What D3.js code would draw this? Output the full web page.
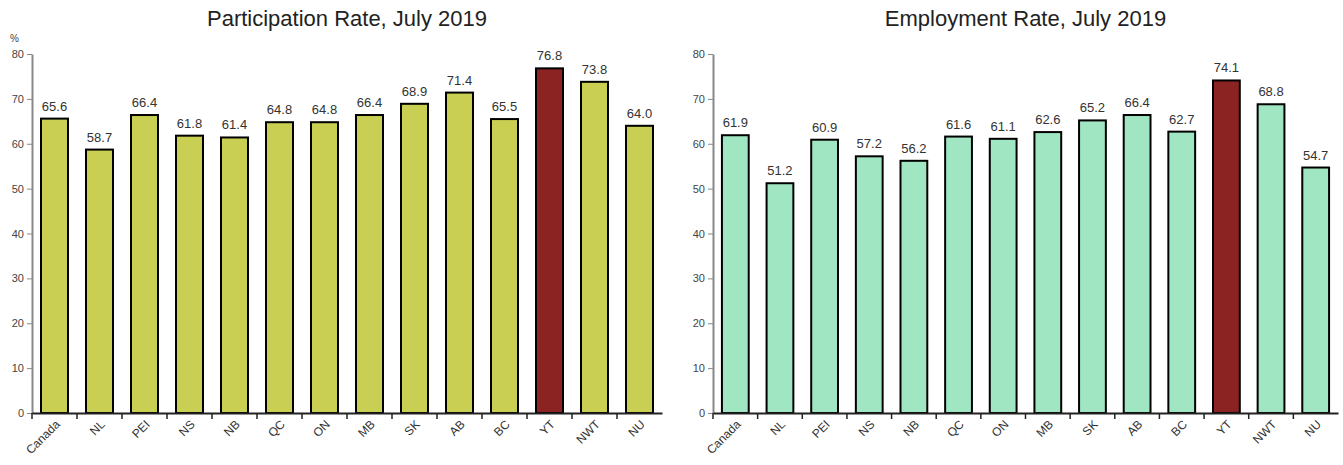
<!DOCTYPE html>
<html><head><meta charset="utf-8">
<script src="https://cdn.jsdelivr.net/npm/d3@7"></script>
<style>body{margin:0;background:#fff}</style>
</head><body><svg id="c" width="1343" height="465"></svg>
<script>
let regions = ["Canada","NL","PEI","NS","NB","QC","ON","MB","SK","AB","BC","YT","NWT","NU"]
let participation = [65.6,58.7,66.4,61.8,61.4,64.8,64.8,66.4,68.9,71.4,65.5,76.8,73.8,64.0]
let employment = [61.9,51.2,60.9,57.2,56.2,61.6,61.1,62.6,65.2,66.4,62.7,74.1,68.8,54.7]
let yTicks = [0,10,20,30,40,50,60,70,80]

let svg = d3.select("#c")
function chart(x0, x1, vals, color, title, pct) {
    let x = d3.scaleBand().domain(regions).range([x0, x1]).paddingInner(0.4).paddingOuter(0.2)
    let y = d3.scaleLinear().domain([0, 80]).range([413, 54])
    let g = svg.append("g")
    g.append("text").attr("x", (x0 + x1) / 2).attr("y", 26).attr("text-anchor", "middle")
        .attr("font-family", "Liberation Sans, Arial").attr("font-size", 22).attr("fill", "#222").text(title)
    let ya = g.append("g").attr("transform", `translate(${x0},0)`)
        .call(d3.axisLeft(y).tickValues(yTicks).tickSize(5).tickSizeOuter(0))
    ya.select(".domain").attr("stroke", "#888").attr("stroke-width", 2)
    ya.selectAll(".tick line").attr("stroke", "#888")
    ya.selectAll("text").attr("font-family", "Liberation Sans, Arial").attr("font-size", 11).attr("fill", "#444")
    if (pct) g.append("text").attr("x", x0 - 22).attr("y", 42).attr("font-family", "Liberation Sans, Arial")
        .attr("font-size", 10).attr("fill", "#444").text("%")
    g.selectAll("rect").data(regions).enter().append("rect")
        .attr("x", d => x(d)).attr("width", x.bandwidth())
        .attr("y", (d, i) => y(vals[i])).attr("height", (d, i) => 413 - y(vals[i]))
        .attr("fill", d => d == "YT" ? "#8b2323" : color).attr("stroke", "#000").attr("stroke-width", 2)
    g.selectAll(".lab").data(regions).enter().append("text")
        .attr("x", d => x(d) + x.bandwidth() / 2).attr("y", (d, i) => y(vals[i]) - 8)
        .attr("text-anchor", "middle").attr("font-family", "Liberation Sans, Arial").attr("font-size", 13)
        .attr("fill", "#333").text((d, i) => vals[i].toFixed(1))
    let xa = g.append("g").attr("transform", "translate(0,413)")
        .call(d3.axisBottom(x).tickSize(0).tickSizeOuter(0))
    xa.select(".domain").attr("stroke", "#222").attr("stroke-width", 2)
    let step = x.step()
    regions.forEach((d, i) => {
        g.append("line").attr("x1", x(d) - step * 0.2).attr("x2", x(d) - step * 0.2)
            .attr("y1", 413).attr("y2", 419).attr("stroke", "#222").attr("stroke-width", 1.5)
    })
    xa.selectAll("text").attr("font-family", "Liberation Sans, Arial").attr("font-size", 12).attr("fill", "#333")
        .attr("text-anchor", "end").attr("dy", 0).attr("transform", "translate(4,10) rotate(-45)")
}
chart(32, 662, participation, "#c8cf52", "Participation Rate, July 2019", true)
chart(713, 1338, employment, "#a0e6c3", "Employment Rate, July 2019", false)
</script></body></html>
